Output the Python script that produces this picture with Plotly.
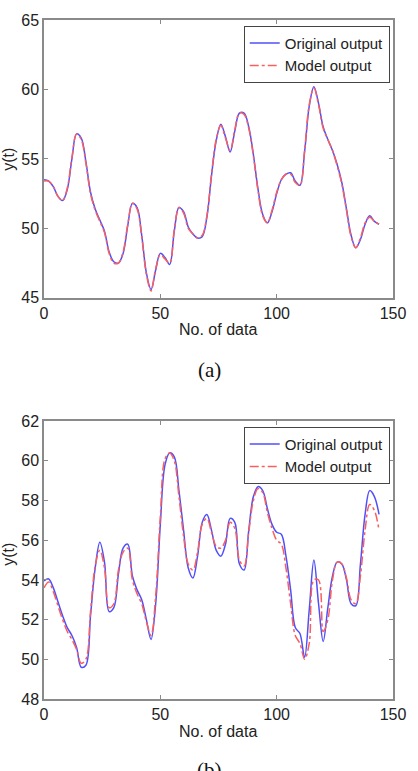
import plotly.graph_objects as go

# ---------------- data ----------------
x_a = list(range(0, 145, 2))
orig_a = [53.5, 53.4, 53.0, 52.3, 52.0, 52.8, 55.0, 56.8, 56.5, 54.8,
          52.6, 51.4, 50.6, 49.8, 48.3, 47.6, 47.5, 48.2, 50.2, 51.8,
          51.5, 49.5, 46.8, 45.6, 47.0, 48.2, 47.9, 47.4, 49.8, 51.5,
          51.2, 50.1, 49.6, 49.3, 49.4, 50.8, 53.8, 56.3, 57.5, 56.6,
          55.5, 57.0, 58.3, 58.3, 57.3, 55.3, 52.8, 51.0, 50.4, 51.2,
          52.5, 53.5, 53.9, 54.0, 53.4, 53.1, 55.5, 58.8, 60.2, 59.0,
          57.3, 56.4, 55.6, 54.6, 53.3, 51.4, 49.5, 48.6, 49.2, 50.3,
          50.9, 50.5, 50.3]
model_a = [53.4, 53.4, 53.0, 52.3, 52.0, 52.9, 55.1, 56.8, 56.4, 54.7,
           52.5, 51.3, 50.5, 49.7, 48.2, 47.5, 47.5, 48.3, 50.3, 51.8,
           51.4, 49.4, 46.7, 45.5, 47.1, 48.1, 47.8, 47.5, 49.9, 51.5,
           51.1, 50.0, 49.6, 49.3, 49.5, 50.9, 53.9, 56.4, 57.4, 56.5,
           55.6, 57.1, 58.3, 58.2, 57.2, 55.2, 52.7, 50.9, 50.4, 51.3,
           52.6, 53.5, 53.9, 53.9, 53.3, 53.1, 55.6, 58.9, 60.1, 58.9,
           57.2, 56.4, 55.6, 54.5, 53.2, 51.3, 49.4, 48.6, 49.3, 50.4,
           50.8, 50.5, 50.3]

x_b = list(range(0, 145, 2))
orig_b = [53.95, 54.05, 53.6, 52.9, 52.2, 51.6, 51.2, 50.6, 49.6, 49.7,
          52.2, 54.6, 55.9, 54.9, 52.4, 52.6, 54.3, 55.6, 55.8, 54.2,
          53.5, 53.0, 52.0, 51.0, 52.8, 56.8, 59.8, 60.4, 60.2, 58.5,
          56.5, 54.6, 54.1, 55.2, 56.9, 57.3, 56.5, 55.5, 55.2, 55.8,
          57.1, 56.9, 54.8, 54.5, 56.5, 58.2, 58.7, 58.5, 57.6, 56.8,
          56.4, 56.3, 55.2, 53.5, 51.6, 51.3, 50.1, 52.5, 55.0, 52.8,
          50.9, 52.6, 54.2, 54.9, 54.8, 54.0, 52.8, 52.7, 54.8, 57.3,
          58.5, 58.2, 57.3]
model_b = [53.6, 53.9, 53.4, 52.7, 52.0, 51.4, 51.0, 50.5, 49.8, 50.0,
           52.4, 54.7, 55.5, 54.6, 52.6, 52.8, 54.5, 55.4, 55.6, 54.0,
           53.3, 52.8, 51.9, 51.2, 53.2, 57.2, 60.1, 60.4, 60.0, 58.2,
           56.2, 54.8, 54.5, 55.4, 56.8, 57.1, 56.4, 55.7, 55.6, 56.0,
           56.9, 56.6, 55.0, 54.7, 56.4, 58.0, 58.6, 58.4, 57.4, 56.6,
           56.0, 55.8, 54.6, 52.8, 51.2, 50.8, 50.0, 50.8, 54.0, 54.0,
           51.4, 52.0, 54.0, 54.9, 54.8, 54.1, 53.0, 52.8, 54.2, 56.5,
           57.8, 57.5, 56.5]

x_ticks = [0, 50, 100, 150]
y_ticks_a = [45, 50, 55, 60, 65]
y_ticks_b = [48, 50, 52, 54, 56, 58, 60, 62]
series_names = ["Original output", "Model output"]

# ---------------- layout helpers ----------------
W, H = 418, 771
L, R, T, B = 44.3, 405.7, 15.0, 699.3


def px(x):
    return (x - L) / (R - L)


def py(y):
    return (B - y) / (B - T)


BLUE = "rgb(80,80,250)"
RED = "rgb(250,95,95)"

fig = go.Figure()
fig.add_trace(go.Scatter(x=x_a, y=orig_a, name=series_names[0], mode="lines",
                         line=dict(color=BLUE, width=1.5, shape="spline"),
                         xaxis="x", yaxis="y", legend="legend"))
fig.add_trace(go.Scatter(x=x_a, y=model_a, name=series_names[1], mode="lines",
                         line=dict(color=RED, width=1.5, dash="dashdot", shape="spline"),
                         xaxis="x", yaxis="y", legend="legend"))
fig.add_trace(go.Scatter(x=x_b, y=orig_b, name=series_names[0], mode="lines",
                         line=dict(color=BLUE, width=1.5, shape="spline"),
                         xaxis="x2", yaxis="y2", legend="legend2"))
fig.add_trace(go.Scatter(x=x_b, y=model_b, name=series_names[1], mode="lines",
                         line=dict(color=RED, width=1.5, dash="dashdot", shape="spline"),
                         xaxis="x2", yaxis="y2", legend="legend2"))

FONT = "Liberation Sans, Arial"
axis_common = dict(showline=True, mirror="ticks", linecolor="#8a8a8a", linewidth=1.5,
                   ticks="inside", ticklen=4, tickcolor="#8a8a8a", tickwidth=1,
                   showgrid=False, zeroline=False,
                   tickfont=dict(family=FONT, size=16, color="#222"))

top_dom = [py(295), 1.0]
bot_dom = [0.0, py(419.3)]

leg_common = dict(xanchor="right", yanchor="top",
                  bgcolor="white", bordercolor="#444", borderwidth=1,
                  font=dict(family=FONT, size=15, color="#222"),
                  tracegroupgap=0, itemwidth=30)

fig.update_layout(
    width=W, height=H,
    margin=dict(l=L, r=W - R, t=T, b=H - B),
    paper_bgcolor="white", plot_bgcolor="white",
    showlegend=True,
    xaxis=dict(domain=[0, 1], range=[0, 150], tickvals=x_ticks, anchor="y", **axis_common),
    yaxis=dict(domain=top_dom, range=[45, 65], tickvals=y_ticks_a, anchor="x", **axis_common),
    xaxis2=dict(domain=[0, 1], range=[0, 150], tickvals=x_ticks, anchor="y2", **axis_common),
    yaxis2=dict(domain=bot_dom, range=[48, 62], tickvals=y_ticks_b, anchor="x2", **axis_common),
    legend=dict(x=px(402.3), y=py(20.7), **leg_common),
    legend2=dict(x=px(402.3), y=py(425), **leg_common),
)

ann_font = dict(family=FONT, size=16, color="#222")
cap_font = dict(family="Liberation Serif, Times New Roman", size=21, color="#111")
anns = [
    dict(text="y(t)", x=px(8), y=py(155), textangle=-90, font=ann_font),
    dict(text="No. of data", x=px(224), y=py(327), font=ann_font),
    dict(text="(a)", x=px(216), y=py(368), font=cap_font),
    dict(text="y(t)", x=px(8), y=py(553), textangle=-90, font=ann_font),
    dict(text="No. of data", x=px(224), y=py(732), font=ann_font),
    dict(text="(b)", x=px(216), y=py(771), font=cap_font),
]
for a in anns:
    fig.add_annotation(xref="paper", yref="paper", showarrow=False,
                       xanchor="center", yanchor="middle", **a)

fig.write_html("out.html")
